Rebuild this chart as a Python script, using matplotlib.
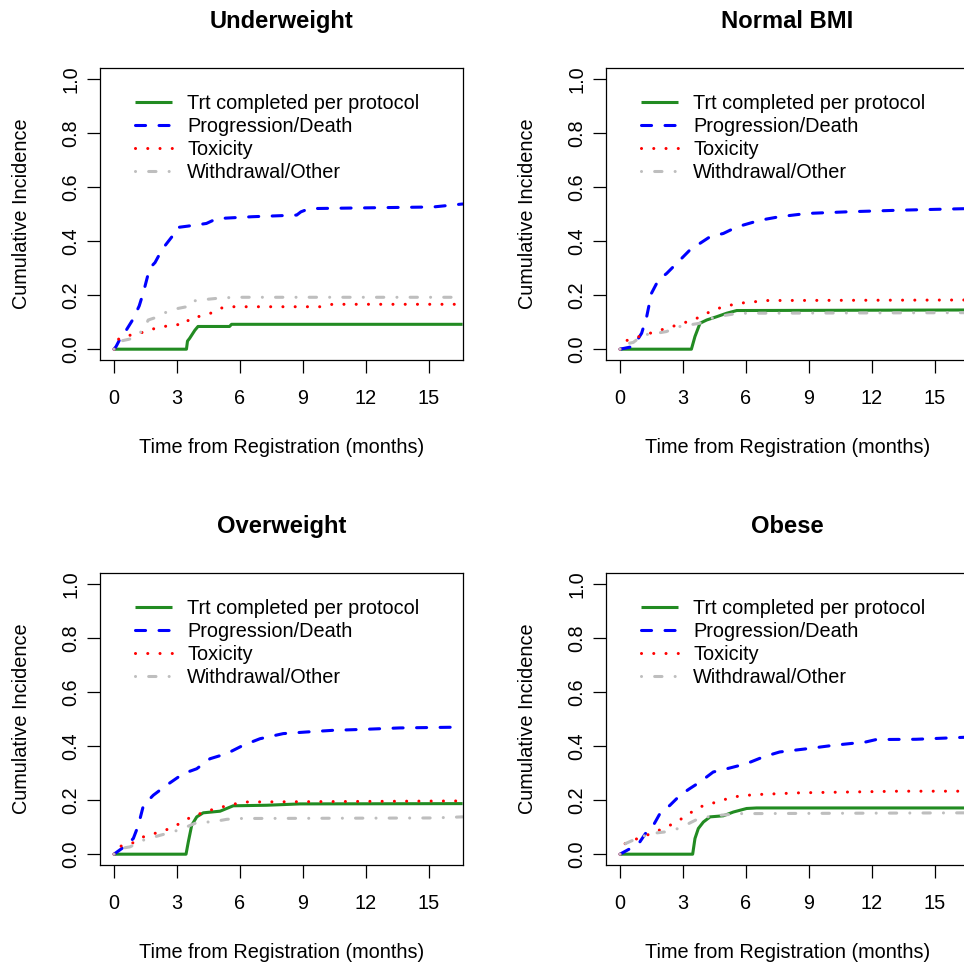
import matplotlib
matplotlib.use("Agg")
import matplotlib.pyplot as plt

plt.rcParams['font.family'] = ['Liberation Sans', 'DejaVu Sans']

# panel titles and legend labels
titles = ["Underweight", "Normal BMI", "Overweight", "Obese"]
labels = ["Trt completed per protocol", "Progression/Death", "Toxicity", "Withdrawal/Other"]
xticks = [0, 3, 6, 9, 12, 15]
yticks = [0.0, 0.2, 0.4, 0.6, 0.8, 1.0]

# Underweight
uw_trt_t = [0, 3.45, 3.5, 3.6, 3.85, 4.0, 5.5, 5.6, 16.6]
uw_trt_v = [0, 0, 0.03, 0.04, 0.07, 0.084, 0.084, 0.092, 0.092]
uw_prog_t = [0, 0.1, 0.3, 0.5, 0.9, 1.2, 1.4, 1.7, 1.95, 2.3, 2.8, 3.0, 3.5, 4.4, 4.9, 6.6, 8.7, 8.9, 9.3, 15.2, 16.6]
uw_prog_v = [0, 0.01, 0.04, 0.06, 0.11, 0.16, 0.21, 0.30, 0.32, 0.37, 0.42, 0.45, 0.455, 0.465, 0.483, 0.49, 0.496, 0.508, 0.52, 0.526, 0.537]
uw_tox_t = [0, 0.05, 0.5, 0.9, 1.5, 1.95, 2.8, 3.4, 3.6, 4.0, 4.6, 5.05, 5.4, 9.8, 10.4, 16.6]
uw_tox_v = [0, 0.03, 0.049, 0.053, 0.065, 0.077, 0.09, 0.092, 0.114, 0.12, 0.133, 0.151, 0.157, 0.157, 0.166, 0.166]
uw_wd_t = [0, 0.2, 0.9, 1.4, 1.63, 2.1, 2.67, 3.46, 3.6, 4.1, 4.9, 5.7, 16.6]
uw_wd_v = [0, 0.028, 0.04, 0.071, 0.108, 0.12, 0.145, 0.157, 0.176, 0.182, 0.188, 0.192, 0.192]

# Normal BMI
nb_trt_t = [0, 3.4, 3.57, 3.81, 4.13, 4.6, 5.08, 5.56, 16.6]
nb_trt_v = [0, 0, 0.047, 0.096, 0.108, 0.12, 0.133, 0.143, 0.145]
nb_prog_t = [0, 0.63, 1.03, 1.27, 1.5, 1.83, 2.22, 2.86, 3.33, 3.8, 4.29, 4.92, 5.4, 5.87, 6.67, 7.6, 8.9, 10.8, 13.3, 14.9, 16.6]
nb_prog_v = [0, 0.01, 0.059, 0.12, 0.207, 0.256, 0.28, 0.33, 0.367, 0.391, 0.416, 0.428, 0.446, 0.459, 0.477, 0.49, 0.502, 0.508, 0.514, 0.517, 0.52]
nb_tox_t = [0, 0.16, 0.63, 1.43, 2.2, 3.0, 3.65, 4.3, 4.9, 5.7, 7.0, 16.6]
nb_tox_v = [0, 0.028, 0.04, 0.059, 0.077, 0.096, 0.114, 0.139, 0.157, 0.17, 0.18, 0.182]
nb_wd_t = [0, 0.05, 0.63, 1.1, 1.6, 2.2, 2.86, 3.8, 4.1, 4.6, 5.4, 6.0, 16.6]
nb_wd_v = [0, 0.016, 0.025, 0.053, 0.057, 0.065, 0.084, 0.096, 0.108, 0.12, 0.13, 0.133, 0.135]

# Overweight
ow_trt_t = [0, 3.43, 3.54, 3.7, 3.94, 4.25, 5.05, 5.68, 7.27, 8.86, 16.6]
ow_trt_v = [0, 0, 0.046, 0.107, 0.138, 0.153, 0.159, 0.179, 0.181, 0.186, 0.187]
ow_prog_t = [0, 0.6, 0.92, 1.16, 1.4, 1.87, 2.5, 3.3, 3.94, 4.57, 5.37, 6.16, 6.95, 8.06, 9.17, 10.4, 12.0, 13.6, 16.6]
ow_prog_v = [0, 0.034, 0.058, 0.107, 0.18, 0.218, 0.255, 0.298, 0.316, 0.353, 0.372, 0.403, 0.427, 0.446, 0.452, 0.458, 0.462, 0.467, 0.47]
ow_tox_t = [0, 0.13, 0.76, 1.4, 2.2, 2.75, 3.54, 4.1, 4.73, 5.37, 6.16, 16.6]
ow_tox_v = [0, 0.027, 0.036, 0.064, 0.083, 0.097, 0.132, 0.15, 0.166, 0.179, 0.193, 0.197]
ow_wd_t = [0, 0.29, 0.76, 1.4, 2.2, 2.83, 3.46, 3.94, 4.73, 5.37, 6.0, 15.2, 16.6]
ow_wd_v = [0, 0.021, 0.027, 0.052, 0.07, 0.083, 0.101, 0.117, 0.12, 0.129, 0.132, 0.134, 0.138]

# Obese
ob_trt_t = [0, 3.46, 3.57, 3.73, 3.97, 4.29, 4.92, 5.4, 6.03, 6.5, 16.6]
ob_trt_v = [0, 0, 0.058, 0.095, 0.119, 0.138, 0.142, 0.156, 0.169, 0.171, 0.171]
ob_prog_t = [0, 0.63, 0.95, 1.27, 1.59, 1.9, 2.38, 2.86, 3.33, 3.81, 4.44, 5.24, 6.03, 6.83, 7.6, 8.9, 10.2, 11.7, 12.2, 14.1, 16.6]
ob_prog_v = [0, 0.027, 0.046, 0.083, 0.107, 0.15, 0.181, 0.218, 0.243, 0.267, 0.304, 0.319, 0.335, 0.36, 0.378, 0.39, 0.403, 0.415, 0.424, 0.425, 0.433]
ob_tox_t = [0, 0.16, 0.63, 1.27, 2.06, 2.7, 3.17, 3.81, 4.6, 5.4, 6.35, 8.57, 13.3, 16.6]
ob_tox_v = [0, 0.036, 0.052, 0.07, 0.095, 0.119, 0.144, 0.175, 0.193, 0.212, 0.22, 0.227, 0.233, 0.233]
ob_wd_t = [0, 0.08, 0.63, 1.43, 2.22, 2.86, 3.8, 4.76, 5.7, 16.6]
ob_wd_v = [0, 0.033, 0.052, 0.076, 0.083, 0.097, 0.134, 0.144, 0.15, 0.153]

panels = [
    [(uw_trt_t, uw_trt_v), (uw_prog_t, uw_prog_v), (uw_tox_t, uw_tox_v), (uw_wd_t, uw_wd_v)],
    [(nb_trt_t, nb_trt_v), (nb_prog_t, nb_prog_v), (nb_tox_t, nb_tox_v), (nb_wd_t, nb_wd_v)],
    [(ow_trt_t, ow_trt_v), (ow_prog_t, ow_prog_v), (ow_tox_t, ow_tox_v), (ow_wd_t, ow_wd_v)],
    [(ob_trt_t, ob_trt_v), (ob_prog_t, ob_prog_v), (ob_tox_t, ob_tox_v), (ob_wd_t, ob_wd_v)],
]

# line styles (R lty 1..4)
colors = ["#228B22", "#0000FF", "#FF0000", "#BEBEBE"]
styles = ["-", (0, (3.3, 4.4)), (0, (0.01, 4.0)), (0, (0.01, 4.3, 2.4, 4.3))]

W, H = 964, 963
fig = plt.figure(figsize=(W / 100, H / 100), dpi=100)

# box positions in pixels: left, top
boxes = [(100, 68), (606, 68), (100, 573), (606, 573)]
bw, bh = 363, 292

for i, (left, top) in enumerate(boxes):
    ax = fig.add_axes([left / W, (H - top - bh) / H, bw / W, bh / H])
    for (t, v), c, ls, lab in zip(panels[i], colors, styles, labels):
        ax.plot(t, v, color=c, linestyle=ls, lw=2.2, label=lab,
                dash_capstyle="round", solid_capstyle="butt")
    ax.set_xlim(-0.667, 16.62)
    ax.set_ylim(-0.04, 1.04)
    ax.set_xticks(xticks)
    ax.set_yticks(yticks)
    ax.set_yticklabels([f"{y:.1f}" for y in yticks], rotation=90, va="center")
    ax.tick_params(direction="out", length=9.4, width=0.9, labelsize=14.3, colors="black")
    ax.tick_params(axis="x", pad=11.5)
    ax.tick_params(axis="y", pad=5)
    for s in ax.spines.values():
        s.set_linewidth(0.9)
    ax.legend(loc="upper left", bbox_to_anchor=(0.096, 0.91), frameon=False,
              fontsize=14.3, handlelength=1.87, handletextpad=0.76,
              labelspacing=0.2, borderpad=0, borderaxespad=0)

    cx = left + bw / 2
    fig.text(cx / W, 1 - (top - 40) / H, titles[i], ha="center", va="baseline",
             fontsize=17.1, fontweight="bold")
    fig.text(cx / W, 1 - (top + 385) / H, "Time from Registration (months)",
             ha="center", va="baseline", fontsize=14.3)
    fig.text((left - 73) / W, 1 - (top + bh / 2) / H, "Cumulative Incidence",
             ha="center", va="baseline", rotation=90, rotation_mode="anchor",
             fontsize=14.3)

fig.savefig("out.png", dpi=100)
